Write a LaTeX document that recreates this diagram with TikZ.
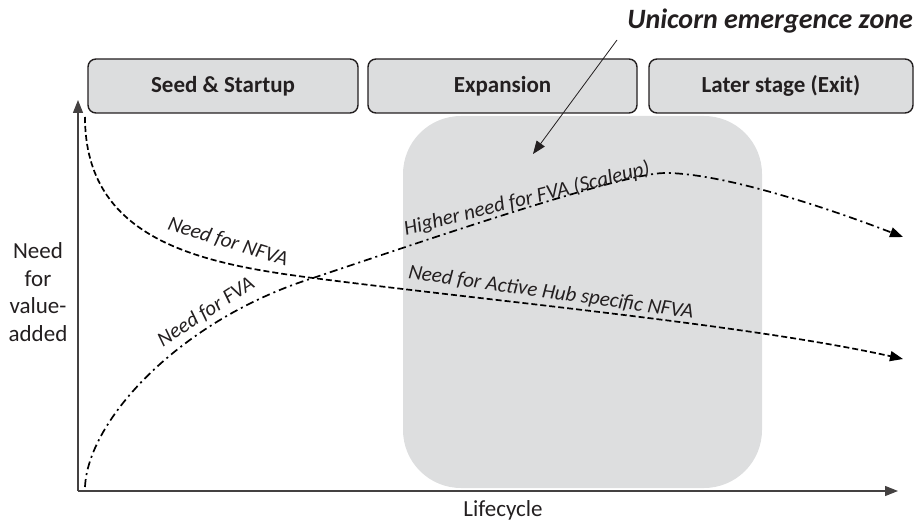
\documentclass[tikz,border=0pt]{standalone}
\usepackage{fontspec}
\setmainfont{Carlito}
\usetikzlibrary{arrows.meta}
\definecolor{stagefill}{HTML}{DCDDDE}
\definecolor{zonefill}{HTML}{DDDEDF}
\definecolor{inkdark}{HTML}{231F20}
\tikzset{
  stage/.style={draw=inkdark, line width=1.4pt, fill=stagefill, rounded corners=8pt,
    minimum height=54pt, font=\fontsize{23}{26}\selectfont\bfseries, text=inkdark},
  axisline/.style={draw=inkdark!85, line width=1.1pt},
  tip/.style={-{Triangle[length=13pt,width=10pt]}},
  nfva/.style={line width=1.7pt, dash pattern=on 6pt off 3pt, tip},
  fva/.style={line width=1.7pt, dash pattern=on 8pt off 4pt on 2pt off 4pt, tip},
  curvelabel/.style={font=\fontsize{21}{24}\selectfont\itshape, text=inkdark, inner sep=0pt},
  axislabel/.style={font=\fontsize{23}{27.5}\selectfont, text=inkdark, align=center},
}
\begin{document}
\begin{tikzpicture}[x=1pt, y=-1pt]
\useasboundingbox (0,0) rectangle (916,521);

% expansion-phase zone behind the curves
\fill[zonefill, rounded corners=58pt] (403,116) rectangle (762,488);

% stage headers
\node[stage, minimum width=270pt] (seed) at (223,86) {Seed \& Startup};
\node[stage, minimum width=269pt] (expansion) at (502.5,86) {Expansion};
\node[stage, minimum width=264pt] (later) at (781,86) {Later stage (Exit)};

% axes
\coordinate (origin) at (78,491);
\coordinate (ytop) at (78,100);
\coordinate (xend) at (898,491);
\draw[axisline, tip] (origin) -- (ytop);
\draw[axisline, tip] (origin) -- (xend);
\node[axislabel] (ylab) at (38,292) {Need\\for\\value-\\added};
\node[axislabel] (xlab) at (503,510) {Lifecycle};

% need for non-financial value-added
\coordinate (nstart) at (85,117);
\coordinate (ncross) at (313,278);
\coordinate (nend) at (903,359);
\draw[nfva] (nstart) .. controls (85,240) and (200,263.5) .. (ncross)
  .. controls (500,302) and (750,325) .. (nend);

% need for financial value-added
\coordinate (fstart) at (85,487);
\coordinate (fpeak) at (665,173);
\coordinate (fend) at (903,237);
\draw[fva] (fstart) .. controls (88,420) and (180,320) .. (ncross)
  .. controls (400,249) and (620,173) .. (fpeak)
  .. controls (720,173) and (820,205) .. (fend);

% curve labels
\node[curvelabel, rotate=-17] (lnfva) at (228,242) {Need for NFVA};
\node[curvelabel, rotate=33] (lfva) at (206,312) {Need for FVA};
\node[curvelabel, rotate=14] (lscale) at (527,199) {Higher need for FVA (Scaleup)};
\node[curvelabel, rotate=-8] (lhub) at (551,293) {Need for Active Hub specific NFVA};

% zone callout
\node[anchor=base east, font=\fontsize{28}{32}\selectfont\bfseries\itshape, text=inkdark, inner sep=0pt] (uz) at (913,29) {Unicorn emergence zone};
\coordinate (uzfoot) at (617,40);
\coordinate (uztip) at (533,154);
\draw[line width=0.8pt, inkdark, -{Triangle[length=13pt,width=10pt]}] (uzfoot) -- (uztip);
\end{tikzpicture}
\end{document}
